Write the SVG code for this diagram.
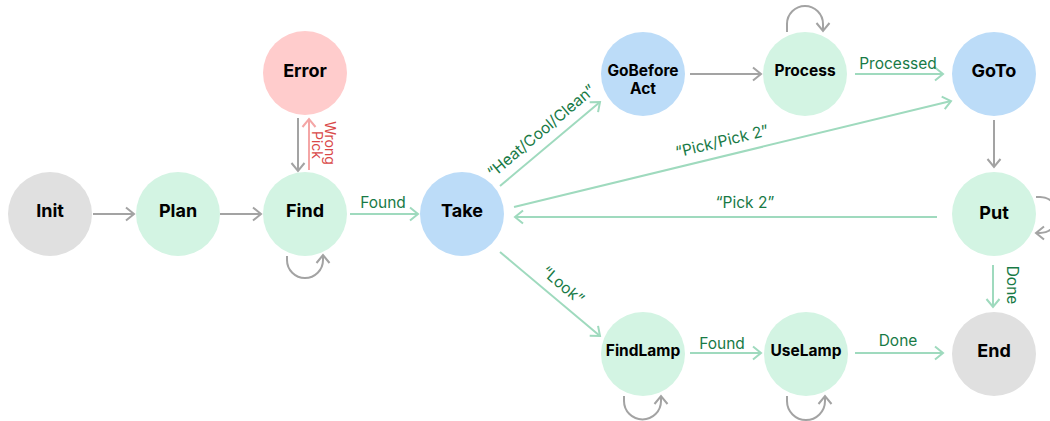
<svg xmlns="http://www.w3.org/2000/svg" width="1050" height="421" viewBox="0 0 1050 421">
<style>
.n{stroke:none}
.g{fill:#d3f4e3}
.b{fill:#bcdcf8}
.x{fill:#e0e0e0}
.r{fill:#ffcccc}
.t{font-family:Inter,"Liberation Sans",sans-serif;font-weight:700;font-size:18px;fill:#000;text-anchor:middle}
.ts{font-size:15.5px}
.l{font-family:Inter,"Liberation Sans",sans-serif;font-size:15.5px;fill:#187a46;text-anchor:middle}
.lr{fill:#d94848;font-size:14px}
.eg{fill:none;stroke:#a3a3a3;stroke-width:2;marker-end:url(#ag)}
.eG{fill:none;stroke:#9fdabe;stroke-width:2;marker-end:url(#aG)}
.eR{fill:none;stroke:#f4a6a6;stroke-width:2;marker-end:url(#aR)}
</style>
<defs>
<marker id="ag" viewBox="-10 -8 12 16" refX="0" refY="0" markerWidth="12" markerHeight="16" markerUnits="userSpaceOnUse" orient="auto"><path d="M-8,-6.5 L0,0 L-8,6.5" fill="none" stroke="#a3a3a3" stroke-width="2"/></marker>
<marker id="aG" viewBox="-10 -8 12 16" refX="0" refY="0" markerWidth="12" markerHeight="16" markerUnits="userSpaceOnUse" orient="auto"><path d="M-8,-6.5 L0,0 L-8,6.5" fill="none" stroke="#9fdabe" stroke-width="2"/></marker>
<marker id="aR" viewBox="-10 -8 12 16" refX="0" refY="0" markerWidth="12" markerHeight="16" markerUnits="userSpaceOnUse" orient="auto"><path d="M-8,-6.5 L0,0 L-8,6.5" fill="none" stroke="#f4a6a6" stroke-width="2"/></marker>
</defs>
<rect width="1050" height="421" fill="#fff"/>
<g id="connectors">
<path class="eg" d="M93,214 L134,214"/>
<path class="eg" d="M220,214 L261,214"/>
<path class="eg" d="M298,118 L298,171"/>
<path class="eR" d="M309,170 L309,119"/>
<path class="eg" d="M287,256 L287,260 A18,18 0 0 0 323,260 L323,255"/>
<path class="eG" d="M350,214 L418,214"/>
<path class="eG" d="M500,186 L600,102"/>
<path class="eg" d="M690,74 L761,74"/>
<path class="eg" d="M787,32 L787,24 A18,18 0 0 1 823,24 L823,31"/>
<path class="eG" d="M855,74 L943,74"/>
<path class="eG" d="M514,207 L951,101"/>
<path class="eG" d="M937,217 L515,217"/>
<path class="eg" d="M994,120 L994,167"/>
<path class="eg" d="M1036,197 L1040,197 A18,18 0 0 1 1040,233 L1036,233"/>
<path class="eG" d="M993,265 L993,307"/>
<path class="eG" d="M500,252 L600,336"/>
<path class="eG" d="M690,353 L761,353"/>
<path class="eg" d="M624,396 L624,401 A18.5,18.5 0 0 0 661,401 L661,396"/>
<path class="eg" d="M787,396 L787,401 A19,19 0 0 0 825,401 L825,396"/>
<path class="eG" d="M855,353 L943,353"/>
<text class="l" x="383" y="207.5">Found</text>
<text class="l lr" transform="translate(330,143) rotate(90)" y="5">Wrong</text>
<text class="l lr" transform="translate(317,145) rotate(90)" y="5">Pick</text>
<text class="l" transform="translate(541,131) rotate(-40)" y="5.5">“Heat/Cool/Clean”</text>
<text class="l" x="898" y="68.5">Processed</text>
<text class="l" transform="translate(722,141) rotate(-13.6)" y="5.5">“Pick/Pick 2”</text>
<text class="l" x="745" y="207.5">“Pick 2”</text>
<text class="l" transform="translate(1012,285) rotate(90)" y="5.5">Done</text>
<text class="l" transform="translate(563,285) rotate(40)" y="5.5">“Look”</text>
<text class="l" x="722" y="348.5">Found</text>
<text class="l" x="898" y="345.5">Done</text>
</g>
<g id="Init"><circle class="n x" cx="50" cy="214" r="42"/><text class="t" x="50" y="216.5">Init</text></g>
<g id="Plan"><circle class="n g" cx="178" cy="214" r="42"/><text class="t" x="178" y="216.5">Plan</text></g>
<g id="Find"><circle class="n g" cx="305" cy="214" r="42"/><text class="t" x="305" y="216.5">Find</text></g>
<g id="Error"><circle class="n r" cx="305" cy="73" r="42"/><text class="t" x="305" y="76.5">Error</text></g>
<g id="Take"><circle class="n b" cx="462" cy="214" r="42"/><text class="t" x="462" y="216.5">Take</text></g>
<g id="GoBeforeAct"><circle class="n b" cx="643" cy="74" r="42"/><text class="t ts" x="643" y="75.5">GoBefore</text><text class="t ts" x="643" y="93.5">Act</text></g>
<g id="Process"><circle class="n g" cx="805" cy="74" r="42"/><text class="t ts" x="805" y="75.5">Process</text></g>
<g id="GoTo"><circle class="n b" cx="994" cy="74" r="42"/><text class="t" x="994" y="76.5">GoTo</text></g>
<g id="Put"><circle class="n g" cx="994" cy="214" r="42"/><text class="t" x="994" y="218.5">Put</text></g>
<g id="End"><circle class="n x" cx="994" cy="354" r="42"/><text class="t" x="994" y="356.5">End</text></g>
<g id="FindLamp"><circle class="n g" cx="643" cy="354" r="42"/><text class="t ts" x="643" y="355.5">FindLamp</text></g>
<g id="UseLamp"><circle class="n g" cx="806" cy="354" r="42"/><text class="t ts" x="806" y="355.5">UseLamp</text></g>
</svg>
